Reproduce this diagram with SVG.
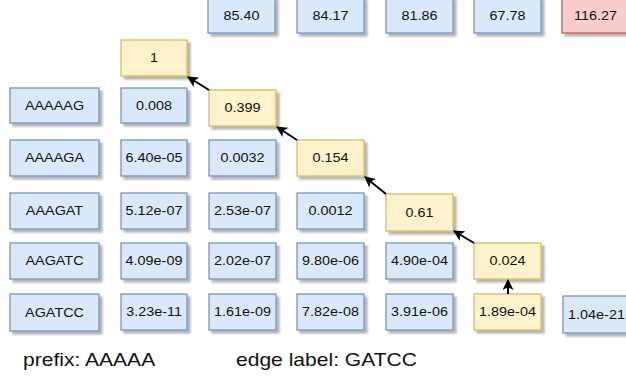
<svg xmlns="http://www.w3.org/2000/svg" width="626" height="377" viewBox="0 0 626 377">
  <style>
    .box rect { stroke-width: 1.2; filter: url(#shadow); }
    .blue rect { fill: #dae8fc; stroke: #6c8ebf; }
    .yellow rect { fill: #fff2cc; stroke: #d6b656; }
    .red rect { fill: #f8cecc; stroke: #b85450; }
    .box text { font-family: "Liberation Sans", Arial, sans-serif; font-size: 12px; fill: #111; text-anchor: middle; }
    .note { font-family: "Liberation Sans", Arial, sans-serif; font-size: 18px; fill: #111; }
    .edge { stroke: #000; stroke-width: 2; fill: none; marker-end: url(#arrow); }
  </style>
  <defs>
    <filter id="shadow" x="-10%" y="-10%" width="130%" height="140%">
      <feGaussianBlur in="SourceAlpha" stdDeviation="0.8"/>
      <feOffset dx="3" dy="3" result="off"/>
      <feComponentTransfer><feFuncA type="linear" slope="0.3"/></feComponentTransfer>
      <feMerge><feMergeNode/><feMergeNode in="SourceGraphic"/></feMerge>
    </filter>
    <marker id="arrow" viewBox="0 0 10 10" refX="9" refY="5" markerWidth="5.5" markerHeight="5.5" orient="auto" markerUnits="strokeWidth">
      <path d="M0,0 L10,5 L0,10 L2.5,5 Z" fill="#000"/>
    </marker>
  </defs>

  <!-- header row -->
  <g id="h1" class="box blue"><rect x="208" y="-3" width="67" height="36"/><text transform="translate(241.5 20) scale(1.2 1)">85.40</text></g>
  <g id="h2" class="box blue"><rect x="297" y="-3" width="67" height="36"/><text transform="translate(330.5 20) scale(1.2 1)">84.17</text></g>
  <g id="h3" class="box blue"><rect x="386" y="-3" width="67" height="36"/><text transform="translate(419.5 20) scale(1.2 1)">81.86</text></g>
  <g id="h4" class="box blue"><rect x="474" y="-3" width="67" height="36"/><text transform="translate(507.5 20) scale(1.2 1)">67.78</text></g>
  <g id="h5" class="box red"><rect x="562" y="-3" width="67" height="36"/><text transform="translate(595.5 20) scale(1.2 1)">116.27</text></g>

  <!-- start cell -->
  <g id="c0_0" class="box yellow"><rect x="121" y="40" width="66" height="36"/><text transform="translate(154 62) scale(1.2 1)">1</text></g>

  <!-- row 1 -->
  <g id="r1" class="box blue"><rect x="10" y="88" width="89" height="35"/><text transform="translate(54.5 110) scale(1.2 1)">AAAAAG</text></g>
  <g id="c1_0" class="box blue"><rect x="121" y="88" width="66" height="35"/><text transform="translate(154 110) scale(1.2 1)">0.008</text></g>
  <g id="c1_1" class="box yellow"><rect x="209" y="90" width="67" height="36"/><text transform="translate(242.5 112) scale(1.2 1)">0.399</text></g>

  <!-- row 2 -->
  <g id="r2" class="box blue"><rect x="10" y="140" width="89" height="36"/><text transform="translate(54.5 162) scale(1.2 1)">AAAAGA</text></g>
  <g id="c2_0" class="box blue"><rect x="121" y="140" width="66" height="36"/><text transform="translate(154 162) scale(1.2 1)">6.40e-05</text></g>
  <g id="c2_1" class="box blue"><rect x="209" y="140" width="67" height="36"/><text transform="translate(242.5 162) scale(1.2 1)">0.0032</text></g>
  <g id="c2_2" class="box yellow"><rect x="297" y="140" width="67" height="36"/><text transform="translate(330.5 162) scale(1.2 1)">0.154</text></g>

  <!-- row 3 -->
  <g id="r3" class="box blue"><rect x="10" y="193" width="89" height="36"/><text transform="translate(54.5 215) scale(1.2 1)">AAAGAT</text></g>
  <g id="c3_0" class="box blue"><rect x="121" y="193" width="66" height="36"/><text transform="translate(154 215) scale(1.2 1)">5.12e-07</text></g>
  <g id="c3_1" class="box blue"><rect x="209" y="193" width="67" height="36"/><text transform="translate(242.5 215) scale(1.2 1)">2.53e-07</text></g>
  <g id="c3_2" class="box blue"><rect x="297" y="193" width="67" height="36"/><text transform="translate(330.5 215) scale(1.2 1)">0.0012</text></g>
  <g id="c3_3" class="box yellow"><rect x="386" y="194" width="67" height="37"/><text transform="translate(419.5 217) scale(1.2 1)">0.61</text></g>

  <!-- row 4 -->
  <g id="r4" class="box blue"><rect x="10" y="243" width="89" height="36"/><text transform="translate(54.5 265) scale(1.2 1)">AAGATC</text></g>
  <g id="c4_0" class="box blue"><rect x="121" y="243" width="66" height="36"/><text transform="translate(154 265) scale(1.2 1)">4.09e-09</text></g>
  <g id="c4_1" class="box blue"><rect x="209" y="243" width="67" height="36"/><text transform="translate(242.5 265) scale(1.2 1)">2.02e-07</text></g>
  <g id="c4_2" class="box blue"><rect x="297" y="243" width="67" height="36"/><text transform="translate(330.5 265) scale(1.2 1)">9.80e-06</text></g>
  <g id="c4_3" class="box blue"><rect x="386" y="243" width="67" height="36"/><text transform="translate(419.5 265) scale(1.2 1)">4.90e-04</text></g>
  <g id="c4_4" class="box yellow"><rect x="474" y="243" width="67" height="36"/><text transform="translate(507.5 265) scale(1.2 1)">0.024</text></g>

  <!-- row 5 -->
  <g id="r5" class="box blue"><rect x="10" y="294" width="89" height="37"/><text transform="translate(54.5 317) scale(1.2 1)">AGATCC</text></g>
  <g id="c5_0" class="box blue"><rect x="121" y="294" width="66" height="36"/><text transform="translate(154 316) scale(1.2 1)">3.23e-11</text></g>
  <g id="c5_1" class="box blue"><rect x="209" y="294" width="67" height="36"/><text transform="translate(242.5 316) scale(1.2 1)">1.61e-09</text></g>
  <g id="c5_2" class="box blue"><rect x="297" y="294" width="67" height="36"/><text transform="translate(330.5 316) scale(1.2 1)">7.82e-08</text></g>
  <g id="c5_3" class="box blue"><rect x="386" y="294" width="67" height="36"/><text transform="translate(419.5 316) scale(1.2 1)">3.91e-06</text></g>
  <g id="c5_4" class="box yellow"><rect x="474" y="294" width="67" height="36"/><text transform="translate(507.5 316) scale(1.2 1)">1.89e-04</text></g>
  <g id="c5_5" class="box blue"><rect x="563" y="296" width="67" height="37"/><text transform="translate(596.5 319) scale(1.2 1)">1.04e-21</text></g>

  <!-- traceback path -->
  <g id="edges">
    <line class="edge" x1="209" y1="90" x2="188" y2="77"/>
    <line class="edge" x1="297" y1="140" x2="277" y2="127"/>
    <line class="edge" x1="386" y1="194" x2="365" y2="177"/>
    <line class="edge" x1="474" y1="243" x2="454" y2="231"/>
    <line class="edge" x1="508" y1="294" x2="508" y2="280"/>
  </g>

  <!-- captions -->
  <text class="note" transform="translate(23 366) scale(1.17 1)">prefix: AAAAA</text>
  <text class="note" transform="translate(236 366) scale(1.17 1)">edge label: GATCC</text>
</svg>
